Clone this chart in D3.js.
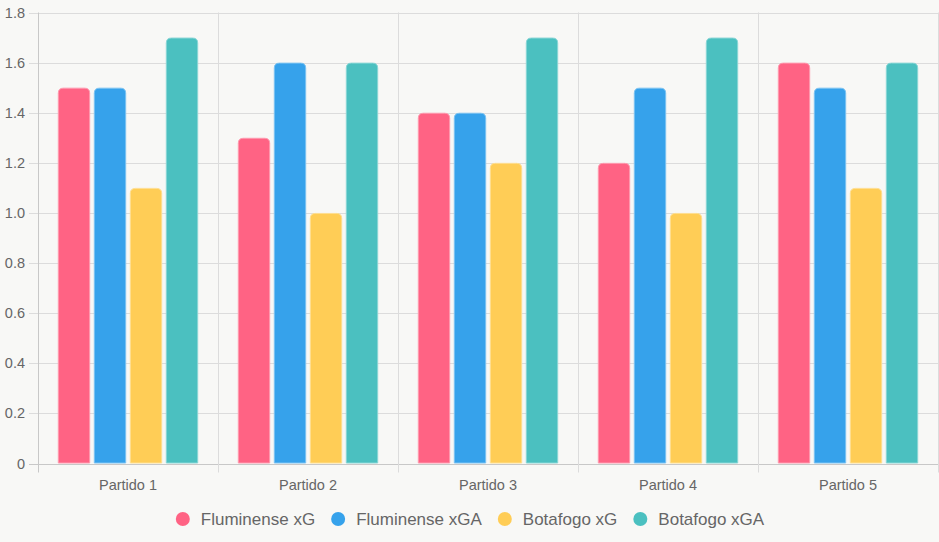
<!DOCTYPE html>
<html><head><meta charset="utf-8">
<script src="https://cdn.jsdelivr.net/npm/d3@7"></script>
<style>
html,body{margin:0;padding:0;background:#f8f8f6;}
svg{display:block;font-family:"Liberation Sans",Arial,Helvetica,sans-serif;}
</style></head>
<body><svg id="c" width="939" height="542"></svg>
<script>
const categories = ["Partido 1","Partido 2","Partido 3","Partido 4","Partido 5"];
const seriesNames = ["Fluminense xG","Fluminense xGA","Botafogo xG","Botafogo xGA"];
const fluminenseXG  = [1.5, 1.3, 1.4, 1.2, 1.6];
const fluminenseXGA = [1.5, 1.6, 1.4, 1.5, 1.5];
const botafogoXG    = [1.1, 1.0, 1.2, 1.0, 1.1];
const botafogoXGA   = [1.7, 1.6, 1.7, 1.7, 1.6];
const yTicks = [0, 0.2, 0.4, 0.6, 0.8, 1.0, 1.2, 1.4, 1.6, 1.8];
const colors = ["#ff6384","#36a2eb","#ffcd56","#4bc0c0"];

const seriesValues = [fluminenseXG, fluminenseXGA, botafogoXG, botafogoXGA];
const svg = d3.select("#c");
const L = 38, R = 938, T = 12.5, B = 463.5;

const x = d3.scaleBand().domain(categories).range([L, R]).paddingInner(0).paddingOuter(0);
const xInner = d3.scaleBand().domain(d3.range(4)).range([0, x.bandwidth()]).paddingInner(0.1).paddingOuter(0.05);
// emulate chart.js: categoryPercentage 0.8, barPercentage 0.9
const catW = x.bandwidth()*0.8, slot = catW/4, barW = slot*0.9;
const y = d3.scaleLinear().domain([0, 1.8]).range([B, T]);

const grid = "#dcdcdc";
// horizontal gridlines
svg.append("g").selectAll("line").data(yTicks).join("line")
  .attr("x1", L-9).attr("x2", R).attr("y1", d=>Math.round(y(d))+0.5).attr("y2", d=>Math.round(y(d))+0.5)
  .attr("stroke", (d)=> d===0 ? "#c8c8c8" : grid).attr("stroke-width",1);
// vertical gridlines at category boundaries
const bounds = categories.map(c=>x(c)).concat([R]);
svg.append("g").selectAll("line").data(bounds).join("line")
  .attr("x1", d=>Math.round(d)+0.5).attr("x2", d=>Math.round(d)+0.5)
  .attr("y1", T).attr("y2", B+9)
  .attr("stroke", (d,i)=> i===0 ? "#c8c8c8" : grid).attr("stroke-width",1);

// y labels
svg.append("g").selectAll("text").data(yTicks).join("text")
  .attr("x", 25).attr("y", d=>y(d)).attr("dy","0.35em").attr("text-anchor","end")
  .attr("font-size", 14.5).attr("fill","#666")
  .text(d=> d===0 ? "0" : d3.format(".1f")(d));

// x labels
svg.append("g").selectAll("text").data(categories).join("text")
  .attr("x", d=>x(d)+x.bandwidth()/2).attr("y", 485).attr("dy","0.35em").attr("text-anchor","middle")
  .attr("font-size", 14.5).attr("fill","#666").text(d=>d);

function barPath(x0, w, y0, y1, r){
  r = Math.min(r, w/2, y1-y0);
  return `M${x0},${y1}V${y0+r}Q${x0},${y0} ${x0+r},${y0}H${x0+w-r}Q${x0+w},${y0} ${x0+w},${y0+r}V${y1}Z`;
}
const bars = svg.append("g");
categories.forEach((c,ci)=>{
  const start = x(c) + (x.bandwidth()-catW)/2;
  seriesValues.forEach((vals,si)=>{
    const bx = start + slot*si + (slot-barW)/2;
    const col = colors[si];
    bars.append("path")
      .attr("d", barPath(bx+0.5, barW-1, y(vals[ci])+0.5, B-0.5, 5))
      .attr("fill", col)
      .attr("stroke", d3.interpolateRgb(col, "#ffffff")(0.35))
      .attr("stroke-width", 1);
  });
});

// legend
const lg = svg.append("g");
const fs = 17;
let items = [];
let cx = 0;
seriesNames.forEach((n,i)=>{
  const g = lg.append("g");
  g.append("circle").attr("cx", 7).attr("cy", 0).attr("r", 7).attr("fill", colors[i]);
  const t = g.append("text").attr("x", 25).attr("y", 0).attr("dy","0.35em")
    .attr("font-size", fs).attr("fill","#666").text(n);
  const w = t.node().getComputedTextLength();
  items.push({g, w, off: cx});
  cx += 25 + w + 16;
});
const total = cx - 16;
const lx = 470 - total/2;
items.forEach(it=> it.g.attr("transform", `translate(${lx+it.off},519)`));
</script></body></html>
